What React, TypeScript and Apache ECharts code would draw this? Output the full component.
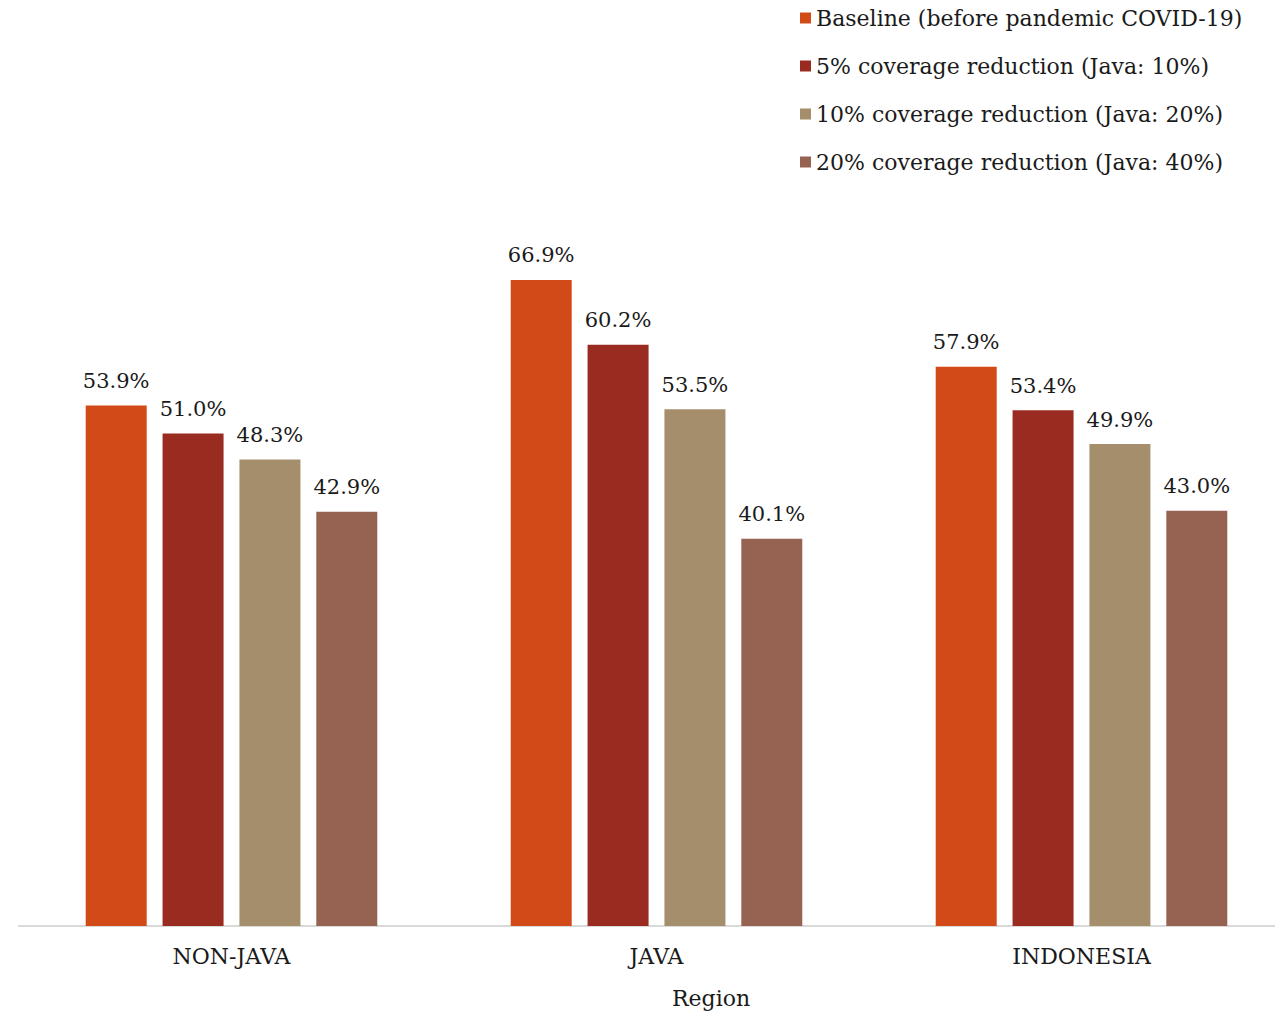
import React, { useEffect, useRef } from "react";
import * as echarts from "echarts";

const categories = ["NON-JAVA", "JAVA", "INDONESIA"];
const seriesNames = [
  "Baseline (before pandemic COVID-19)",
  "5% coverage reduction (Java: 10%)",
  "10% coverage reduction (Java: 20%)",
  "20% coverage reduction (Java: 40%)",
];
const baseline = [53.9, 66.9, 57.9];
const reduction1 = [51.0, 60.2, 53.4];
const reduction2 = [48.3, 53.5, 49.9];
const reduction3 = [42.9, 40.1, 43.0];
const colors = ["#D24A17", "#992B20", "#A48E6B", "#966353"];

const FONT = "DejaVu Serif";

export default function App() {
  const ref = useRef<HTMLDivElement>(null);

  useEffect(() => {
    if (!ref.current) return;
    const chart = echarts.init(ref.current, undefined, { renderer: "svg" });
    const values = [baseline, reduction1, reduction2, reduction3];
    chart.setOption({
      animation: false,
      backgroundColor: "#ffffff",
      textStyle: { fontFamily: FONT },
      legend: {
        orient: "vertical",
        left: 795,
        top: 2,
        itemWidth: 11,
        itemHeight: 11,
        itemGap: 26,
        icon: "rect",
        textStyle: { fontFamily: FONT, fontSize: 22, color: "#1a1a1a" },
        data: seriesNames,
      },
      grid: {
        left: 19,
        right: -19,
        top: 250,
        bottom: 89,
        outerBoundsMode: "none",
      },
      xAxis: {
        type: "category",
        data: categories,
        axisLine: { lineStyle: { color: "#d9d9d9", width: 2 } },
        axisTick: { show: false },
        axisLabel: {
          fontFamily: FONT,
          fontSize: 22,
          color: "#1a1a1a",
          margin: 19,
        },
      },
      yAxis: {
        type: "value",
        min: 0,
        max: 70,
        show: false,
        splitLine: { show: false },
      },
      graphic: [
        {
          type: "text",
          left: 672,
          top: 987,
          style: {
            text: "Region",
            fontFamily: FONT,
            fontSize: 22,
            fill: "#1a1a1a",
          },
        },
      ],
      series: seriesNames.map((name, i) => ({
        name,
        type: "bar",
        data: values[i],
        barWidth: 61,
        barGap: "26%",
        itemStyle: { color: colors[i] },
        label: {
          show: true,
          position: "top",
          distance: 14,
          fontFamily: FONT,
          fontSize: 21,
          color: "#1a1a1a",
          formatter: (p: any) => p.value.toFixed(1) + "%",
        },
      })),
    });
    return () => chart.dispose();
  }, []);

  return (
    <div
      ref={ref}
      style={{ position: "fixed", left: 0, top: 0, width: 1275, height: 1015 }}
    />
  );
}
